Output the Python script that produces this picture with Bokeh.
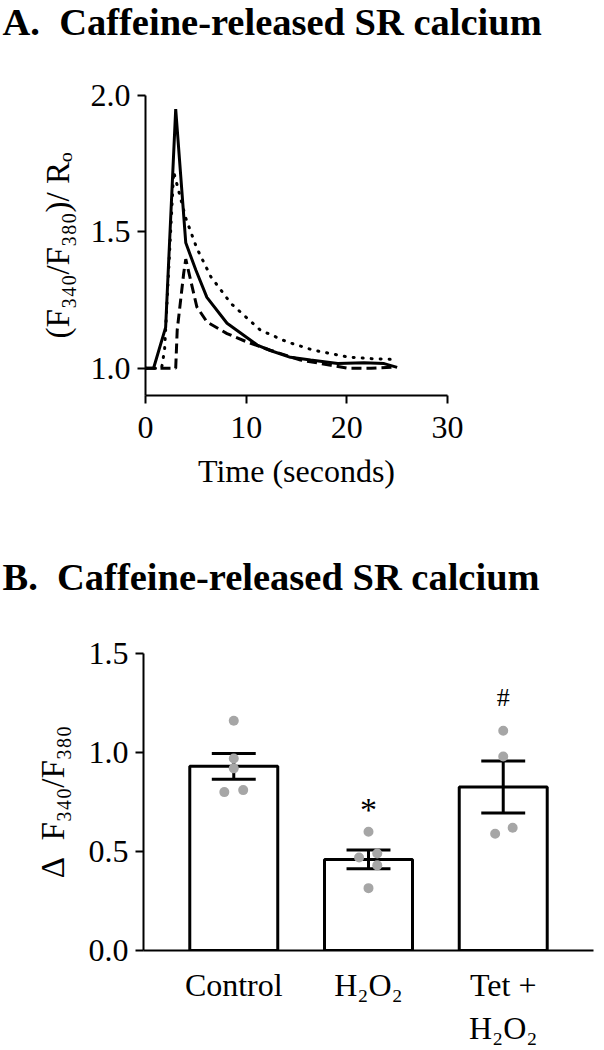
from bokeh.plotting import figure
from bokeh.models import FixedTicker, Range1d, FactorRange
from bokeh.layouts import column, row
from bokeh.embed import file_html
from bokeh.resources import INLINE
from bokeh.core.properties import value

FONT = "Liberation Serif"

# ---------------- Panel A data (traces) ----------------
solid_t = [0, 0.8, 2.0, 3.0, 4.0, 5.0, 6.1, 8.1, 11.1, 12.4, 14.4, 16.4, 19.1, 21.7, 23.7, 25.0]
solid_v = [1.0, 1.0, 1.15, 1.95, 1.46, 1.36, 1.26, 1.165, 1.085, 1.065, 1.04, 1.03, 1.017, 1.02, 1.017, 1.003]

dotted_t = [0, 1.6, 1.9, 2.8, 4.0, 5.1, 6.5, 8.5, 11.4, 14.1, 16.7, 20.1, 22.5, 24.7]
dotted_v = [1.0, 1.0, 1.07, 1.72, 1.55, 1.44, 1.335, 1.237, 1.14, 1.096, 1.066, 1.041, 1.035, 1.032]

dashed_t = [0, 3.0, 3.15, 3.8, 4.0, 4.5, 5.1, 6.1, 8.1, 10.1, 12.4, 15.4, 18.4, 20.1, 22.4, 24.7]
dashed_v = [1.0, 1.0, 1.14, 1.35, 1.40, 1.32, 1.225, 1.17, 1.127, 1.096, 1.066, 1.03, 1.011, 1.0, 1.0, 1.004]

a_xticks = [0, 10, 20, 30]
a_yticks = [1.0, 1.5, 2.0]
a_ylabels = ["1.0", "1.5", "2.0"]
title_a = "A.\u00a0 Caffeine-released SR calcium"

# ---------------- Panel B data (bars) ----------------
groups = ["Control", "H\u2082O\u2082", "Tet +\nH\u2082O\u2082"]
means = [0.93, 0.46, 0.826]
sems = [0.065, 0.047, 0.131]
dots_control = [1.16, 0.97, 0.92, 0.80, 0.81]
dots_h2o2 = [0.60, 0.47, 0.49, 0.43, 0.315]
dots_tet = [1.11, 0.98, 0.59, 0.62]
# horizontal spread of the individual points (category units)
offs_control = [0, 0, 0, -0.07, 0.07]
offs_h2o2 = [0, -0.07, 0.065, 0.065, 0]
offs_tet = [0, 0, -0.06, 0.07]
sig_text = ["*", "#"]
sig_group = [groups[1], groups[2]]
sig_y = [0.71, 1.28]
b_yticks = [0.0, 0.5, 1.0, 1.5]
b_ylabels = ["0.0", "0.5", "1.0", "1.5"]
title_b = "B.\u00a0 Caffeine-released SR calcium"

W = 600


def style_axis(ax):
    ax.axis_line_width = 2
    ax.axis_line_color = "black"
    ax.major_tick_line_width = 2
    ax.major_tick_line_color = "black"
    ax.major_tick_out = 8
    ax.major_tick_in = 0
    ax.minor_tick_line_color = None
    ax.major_label_text_font = FONT
    ax.major_label_text_font_size = "32px"
    ax.major_label_text_color = "black"
    ax.axis_label_text_font = FONT
    ax.axis_label_text_font_size = "32px"
    ax.axis_label_text_font_style = "normal"
    ax.axis_label_text_color = "black"
    ax.major_label_standoff = 7


def title_figure(text, height, ypos):
    t = figure(width=W, height=height, x_range=Range1d(0, W), y_range=Range1d(0, height),
               output_backend="svg", toolbar_location=None,
               x_axis_location=None, y_axis_location=None,
               min_border_left=0, min_border_right=0, min_border_top=0, min_border_bottom=0)
    t.grid.visible = False
    t.outline_line_color = None
    t.text(x=[2], y=[ypos], text=[text], text_font=value(FONT),
           text_font_size="38.5px", text_font_style="bold", text_color="black",
           text_align="left", text_baseline="alphabetic")
    return t


# ---------------- Panel A ----------------
tA = title_figure(title_a, 60, 39)

pA = figure(width=W, height=493, x_range=Range1d(0, 30), y_range=Range1d(0.9, 2.0),
            output_backend="svg", toolbar_location=None,
            min_border_left=145, min_border_right=153, min_border_top=35, min_border_bottom=158)
pA.outline_line_color = None
pA.grid.visible = False

pA.line(dotted_t, dotted_v, line_width=3, line_color="black", line_dash="1 8", line_cap="round")
pA.line(dashed_t, dashed_v, line_width=3, line_color="black", line_dash="10 5")
pA.line(solid_t, solid_v, line_width=3, line_color="black")

for ax in (pA.xaxis[0], pA.yaxis[0]):
    style_axis(ax)
pA.xaxis.ticker = FixedTicker(ticks=a_xticks)
pA.xaxis.major_label_standoff = 13
pA.yaxis.ticker = FixedTicker(ticks=a_yticks)
pA.yaxis.major_label_overrides = dict(zip(a_yticks, a_ylabels))
pA.xaxis.axis_label = "Time (seconds)"
pA.xaxis.axis_label_standoff = 12
pA.yaxis.axis_label = "(F\u2083\u2084\u2080/F\u2083\u2088\u2080)/ R\u2092"
pA.yaxis.axis_label_text_font_size = "33px"
pA.yaxis.axis_label_standoff = 12

# ---------------- Panel B ----------------
tB = title_figure(title_b, 60, 37)

pB = figure(width=W, height=435,
            x_range=FactorRange(factors=groups, range_padding=0.17, range_padding_units="absolute"),
            y_range=Range1d(0, 1.5),
            output_backend="svg", toolbar_location=None,
            min_border_left=143, min_border_right=7, min_border_top=40, min_border_bottom=95)
pB.outline_line_color = None
pB.grid.visible = False

pB.vbar(x=groups, top=means, width=0.653, fill_color="white", line_color="black", line_width=3)

lo = [m - s for m, s in zip(means, sems)]
hi = [m + s for m, s in zip(means, sems)]
pB.segment(x0=groups, x1=groups, y0=lo, y1=hi, line_color="black", line_width=3)
cap_l = [(g, -0.163) for g in groups]
cap_r = [(g, 0.163) for g in groups]
pB.segment(x0=cap_l, x1=cap_r, y0=hi, y1=hi, line_color="black", line_width=3)
pB.segment(x0=cap_l, x1=cap_r, y0=lo, y1=lo, line_color="black", line_width=3)

dot_x, dot_y = [], []
for g, vals, offs in zip(groups, [dots_control, dots_h2o2, dots_tet], [offs_control, offs_h2o2, offs_tet]):
    for v, o in zip(vals, offs):
        dot_x.append((g, o))
        dot_y.append(v)
pB.scatter(x=dot_x, y=dot_y, size=10, fill_color="#a6a6a6", line_color=None)

pB.text(x=[sig_group[0]], y=[sig_y[0]], text=[sig_text[0]], text_font=value(FONT),
        text_font_size="34px", text_align="center", text_baseline="alphabetic", text_color="black")
pB.text(x=[sig_group[1]], y=[sig_y[1]], text=[sig_text[1]], text_font=value(FONT),
        text_font_size="26px", text_align="center", text_baseline="alphabetic", text_color="black")

for ax in (pB.xaxis[0], pB.yaxis[0]):
    style_axis(ax)
pB.xaxis.major_tick_line_color = None
pB.xaxis.major_label_standoff = 8
pB.yaxis.ticker = FixedTicker(ticks=b_yticks)
pB.yaxis.major_label_overrides = dict(zip(b_yticks, b_ylabels))
pB.yaxis.axis_label = "\u0394\u00a0\u00a0F\u2083\u2084\u2080/F\u2083\u2088\u2080"
pB.yaxis.axis_label_text_font_size = "33px"
pB.yaxis.axis_label_standoff = 15

layout = column(row(tA), row(pA), row(tB), row(pB), spacing=0)
open("out.html", "w").write(file_html(layout, INLINE))
